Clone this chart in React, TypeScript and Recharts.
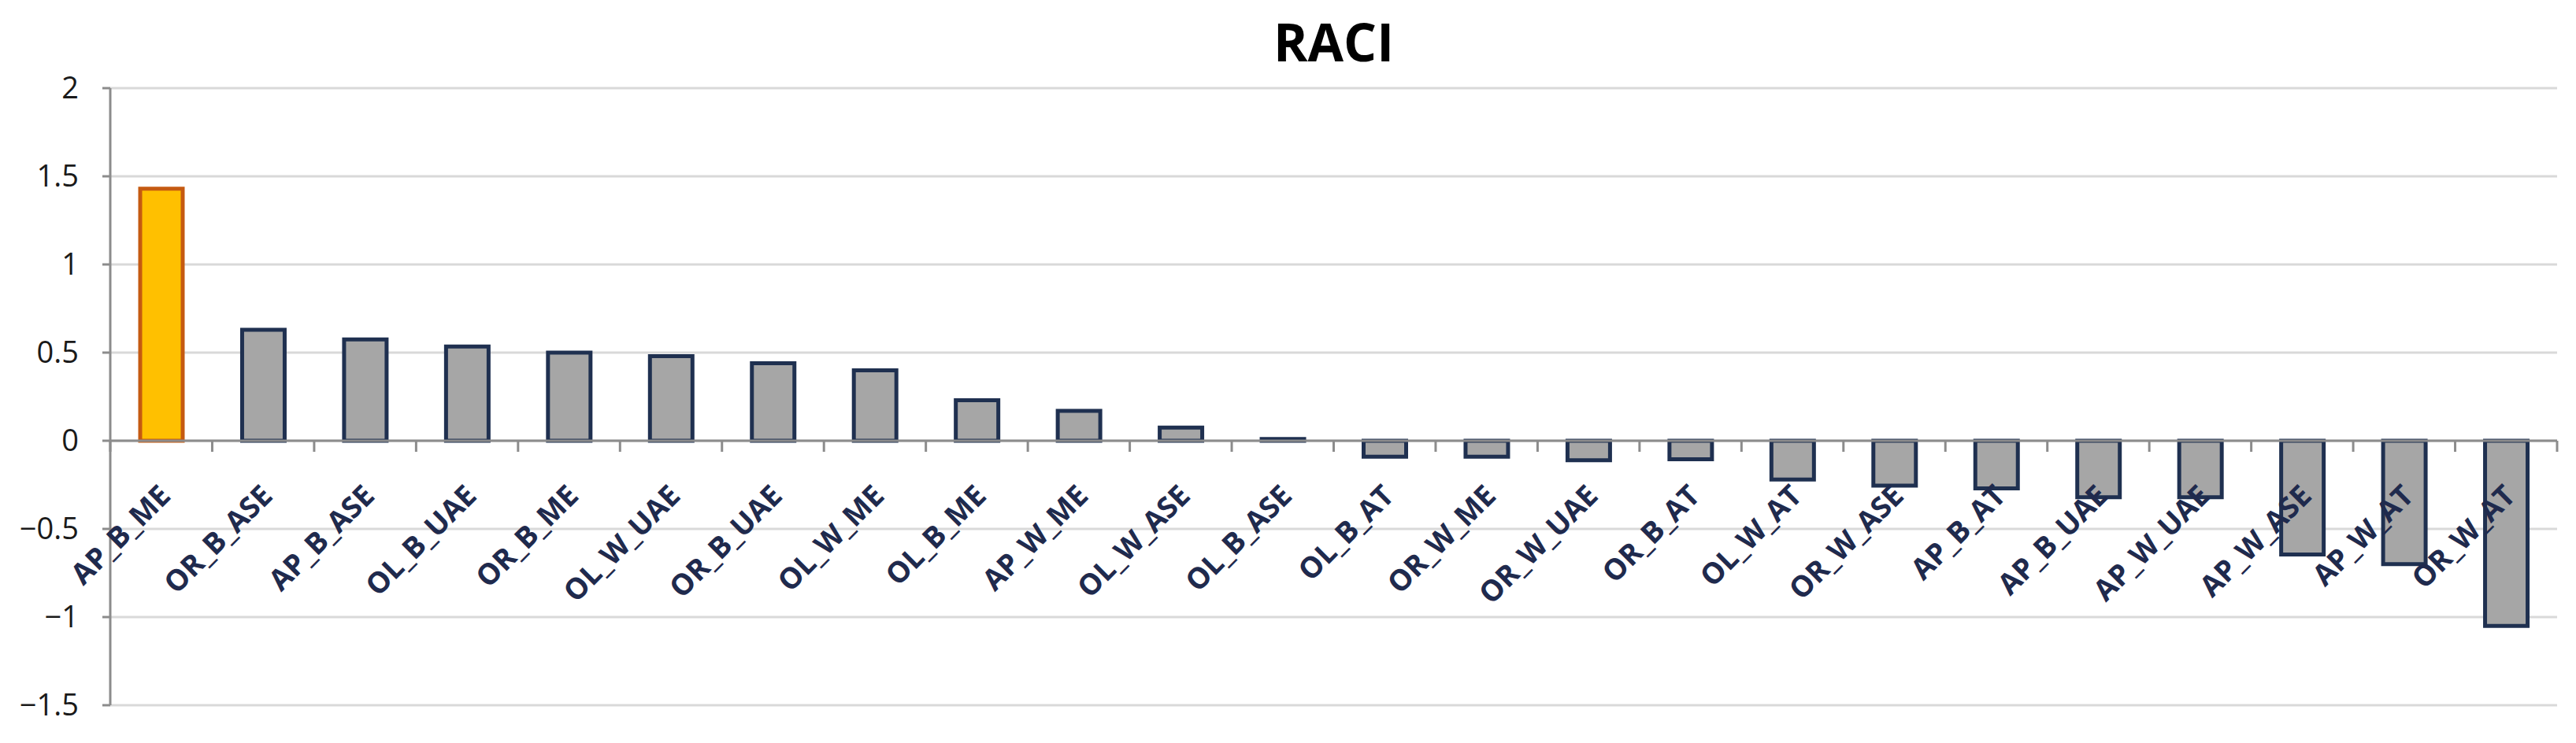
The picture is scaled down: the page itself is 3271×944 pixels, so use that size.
import { BarChart, Bar, XAxis, YAxis, CartesianGrid, ReferenceLine, Cell } from "recharts";

const categories = [
  "AP_B_ME", "OR_B_ASE", "AP_B_ASE", "OL_B_UAE", "OR_B_ME", "OL_W_UAE",
  "OR_B_UAE", "OL_W_ME", "OL_B_ME", "AP_W_ME", "OL_W_ASE", "OL_B_ASE",
  "OL_B_AT", "OR_W_ME", "OR_W_UAE", "OR_B_AT", "OL_W_AT", "OR_W_ASE",
  "AP_B_AT", "AP_B_UAE", "AP_W_UAE", "AP_W_ASE", "AP_W_AT", "OR_W_AT",
];
const raciValues = [
  1.43, 0.63, 0.575, 0.535, 0.5, 0.48,
  0.44, 0.4, 0.23, 0.17, 0.075, 0.01,
  -0.09, -0.09, -0.11, -0.105, -0.22, -0.255,
  -0.27, -0.32, -0.32, -0.645, -0.7, -1.05,
];
const yTicks = [-1.5, -1, -0.5, 0, 0.5, 1, 1.5, 2];
const highlighted = ["AP_B_ME"];

const data = categories.map((name, i) => ({ name, value: raciValues[i] }));

const W = 3255;
const H = 928;
const XAXIS_H = 40;
const MARGIN = { top: 104, right: 16, bottom: 0, left: 0 };
const YAXIS_W = 132;
const Y_MIN = -1.5;
const Y_MAX = 2;
const PLOT_W = W - MARGIN.left - YAXIS_W - MARGIN.right;
const PLOT_H = H - MARGIN.top - MARGIN.bottom - XAXIS_H;
const BAND = PLOT_W / categories.length;
const ZERO_Y = MARGIN.top + (PLOT_H * Y_MAX) / (Y_MAX - Y_MIN);

const AXIS_GREY = "#8c8c8c";
const LABEL_NAVY = "#1f2a4d";

function XTick(props: any) {
  const { x, payload, index } = props;
  const last = index === categories.length - 1;
  return (
    <g>
      <line x1={x - BAND / 2} x2={x - BAND / 2} y1={ZERO_Y} y2={ZERO_Y + 14} stroke={AXIS_GREY} strokeWidth={3} />
      {last && (
        <line x1={x + BAND / 2} x2={x + BAND / 2} y1={ZERO_Y} y2={ZERO_Y + 14} stroke={AXIS_GREY} strokeWidth={3} />
      )}
      <g transform={`translate(${x + 14},${ZERO_Y + 72})`}>
        <text
          transform="rotate(-45)"
          textAnchor="end"
          fontFamily="Open Sans"
          fontWeight={700}
          fontSize={37}
          fill={LABEL_NAVY}
        >
          {payload.value}
        </text>
      </g>
    </g>
  );
}

export default function App() {
  return (
    <div style={{ position: "relative", width: W, height: H, background: "#fff" }}>
      <div
        style={{
          position: "absolute",
          left: YAXIS_W,
          width: PLOT_W,
          top: 11,
          textAlign: "center",
          fontFamily: "Open Sans",
          fontWeight: 700,
          fontSize: 66,
          lineHeight: 1,
          color: "#000",
        }}
      >
        RACI
      </div>
      <BarChart width={W} height={H} data={data} margin={MARGIN}>
        <CartesianGrid vertical={false} stroke="#d9d9d9" strokeWidth={3} />
        <XAxis
          dataKey="name"
          interval={0}
          height={XAXIS_H}
          axisLine={false}
          tickLine={false}
          tickSize={0}
          tickMargin={0}
          tick={(p: any) => <XTick {...p} />}
        />
        <YAxis
          domain={[Y_MIN, Y_MAX]}
          ticks={yTicks}
          interval={0}
          width={YAXIS_W}
          axisLine={{ stroke: AXIS_GREY, strokeWidth: 3 }}
          tickLine={{ stroke: AXIS_GREY, strokeWidth: 3 }}
          tickSize={10}
          tickMargin={30}
          tick={{ fill: "#1a1a1a", fontSize: 38, fontFamily: "Open Sans" }}
          tickFormatter={(v: number) => (v < 0 ? "\u2212" + Math.abs(v) : String(v))}
        />
        <ReferenceLine y={0} stroke={AXIS_GREY} strokeWidth={3} />
        <Bar dataKey="value" barSize={54} isAnimationActive={false}>
          {data.map((d) => (
            <Cell
              key={d.name}
              fill={highlighted.includes(d.name) ? "#ffc000" : "#a6a6a6"}
              stroke={highlighted.includes(d.name) ? "#c55a11" : "#1f3050"}
              strokeWidth={5}
            />
          ))}
        </Bar>
      </BarChart>
    </div>
  );
}
